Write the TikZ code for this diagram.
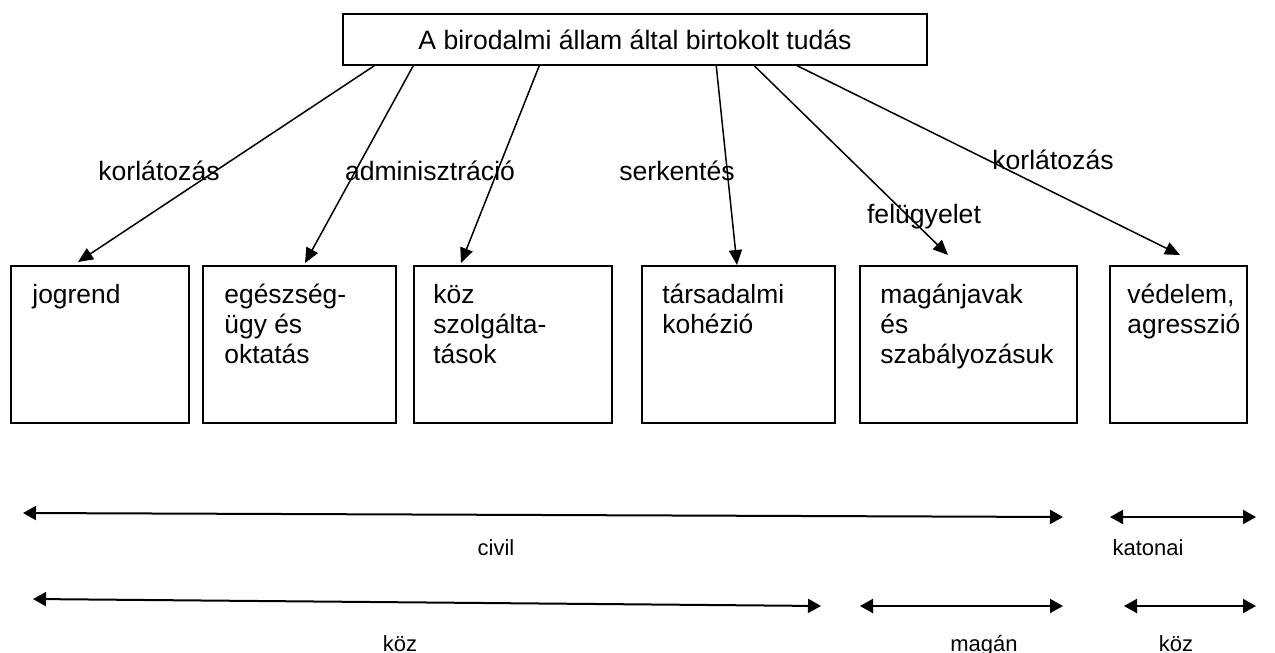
\documentclass[tikz,border=0pt]{standalone}
\usepackage{fontspec}
\setmainfont{Liberation Sans}
\usetikzlibrary{arrows.meta,calc}
\begin{document}
\begin{tikzpicture}[x=0.5pt,y=-0.5pt,
  box/.style={draw,line width=1pt,minimum width=#1,minimum height=78.5pt,anchor=north west,inner sep=0pt},
  boxtext/.style={anchor=base west,inner sep=0pt,align=left,font=\fontsize{13.2}{15}\selectfont},
  lbl/.style={anchor=base,inner sep=0pt,font=\fontsize{13.3}{15}\selectfont},
  slbl/.style={anchor=base,inner sep=0pt,font=\fontsize{11}{13}\selectfont},
  conn/.style={line width=0.75pt,-{Triangle[length=7.5pt,width=6.5pt]}},
  span/.style={line width=1pt,{Triangle[length=6.5pt,width=7pt]}-{Triangle[length=6.5pt,width=7pt]}}]
\useasboundingbox (0,0) rectangle (1275,653);
% top box
\node[draw,line width=0.75pt,minimum width=292pt,minimum height=25.5pt,inner sep=0pt,
  font=\fontsize{13.3}{15}\selectfont] (top) at (635,39.5) {A birodalmi állam által birtokolt tudás};
% boxes
\node[box=89pt]   (b1) at (10,265)   {};
\node[box=96.5pt] (b2) at (202,265)  {};
\node[box=99pt]   (b3) at (413,265)  {};
\node[box=96.5pt] (b4) at (641,265)  {};
\node[box=108.5pt](b5) at (859,265)  {};
\node[box=68.5pt] (b6) at (1109,265) {};
\node[boxtext] (t1) at (32,303)   {jogrend};
\node[boxtext] (t2) at (224,363)  {egészség-\\ügy és\\oktatás};
\node[boxtext] (t3) at (433,363)  {köz\\szolgálta-\\tások};
\node[boxtext] (t4) at (662,333)  {társadalmi\\kohézió};
\node[boxtext] (t5) at (880,363)  {magánjavak\\és\\szabályozásuk};
\node[boxtext] (t6) at (1127,333) {védelem,\\agresszió};
% connectors
\draw[conn] ($(top.south west)+(32,0)$)  -- ($(b1.north west)+(68,-3)$);
\draw[conn] ($(top.south west)+(71,0)$)  -- ($(b2.north west)+(103,-2)$);
\draw[conn] ($(top.south west)+(197,0)$) -- ($(b3.north west)+(48,-2)$);
\draw[conn] ($(top.south west)+(374,0)$) -- ($(b4.north west)+(96,0)$);
\draw[conn] ($(top.south west)+(412,0)$) -- ($(b5.north west)+(89,-10)$);
\draw[conn] ($(top.south west)+(455,0)$) -- ($(b6.north west)+(71,-10)$);
% connector labels
\node[lbl] (l1) at (159,180)  {korlátozás};
\node[lbl] (l2) at (430,180)  {adminisztráció};
\node[lbl] (l3) at (677,180)  {serkentés};
\node[lbl] (l4) at (924,223)  {felügyelet};
\node[lbl] (l5) at (1053,169) {korlátozás};
% spans
\coordinate (c1l) at (23,513);   \coordinate (c1r) at (1063,517);
\coordinate (c2l) at (1110,517); \coordinate (c2r) at (1256,517);
\coordinate (c3l) at (33,599);   \coordinate (c3r) at (821,606);
\coordinate (c4l) at (860,606);  \coordinate (c4r) at (1063,606);
\coordinate (c5l) at (1124,606); \coordinate (c5r) at (1256,606);
\draw[span] (c1l) -- (c1r);
\draw[span] (c2l) -- (c2r);
\draw[span] (c3l) -- (c3r);
\draw[span] (c4l) -- (c4r);
\draw[span] (c5l) -- (c5r);
\node[slbl] (s1) at (496,555)  {civil};
\node[slbl] (s2) at (1148,555) {katonai};
\node[slbl] (s3) at (400,651)  {köz};
\node[slbl] (s4) at (984,651)  {magán};
\node[slbl] (s5) at (1176,651) {köz};
\end{tikzpicture}
\end{document}
